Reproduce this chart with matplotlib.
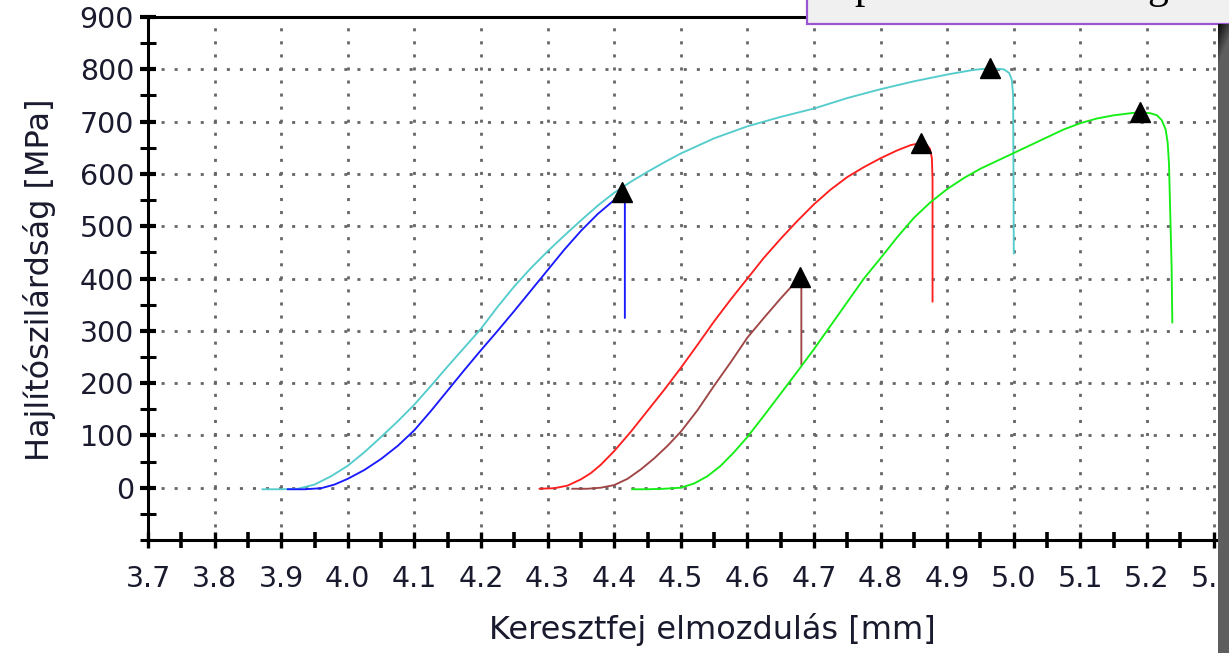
import numpy as np
import matplotlib
matplotlib.use("Agg")
import matplotlib.pyplot as plt
from matplotlib.patches import Rectangle
from matplotlib.ticker import MultipleLocator

# ---- data -------------------------------------------------------------
x_ticks = [3.7, 3.8, 3.9, 4.0, 4.1, 4.2, 4.3, 4.4, 4.5, 4.6, 4.7, 4.8, 4.9,
           5.0, 5.1, 5.2, 5.3]
y_ticks = [0, 100, 200, 300, 400, 500, 600, 700, 800, 900]

cyan_x = [3.872, 3.9, 3.925, 3.95, 3.975, 4.0, 4.025, 4.05, 4.075, 4.1, 4.125,
          4.15, 4.175, 4.2, 4.225, 4.25, 4.275, 4.3, 4.325, 4.35, 4.375, 4.4,
          4.425, 4.45, 4.475, 4.5, 4.55, 4.6, 4.65, 4.7, 4.75, 4.8, 4.85, 4.9,
          4.94, 4.965, 4.985, 4.993, 4.997, 4.999, 5.0]
cyan_y = [-3, -3, -2, 6, 22, 42, 68, 97, 127, 159, 195,
          232, 268, 304, 346, 385, 420, 452, 482, 511, 539, 564,
          585, 604, 622, 639, 668, 691, 709, 725, 745, 762, 777, 790,
          799, 802, 800, 793, 780, 750, 448]

blue_x = [3.91, 3.935, 3.96, 3.98, 4.0, 4.025, 4.05, 4.075, 4.1, 4.125, 4.15,
          4.175, 4.2, 4.225, 4.25, 4.275, 4.3, 4.325, 4.35, 4.375, 4.4, 4.412,
          4.416, 4.416]
blue_y = [-3, -3, -1, 6, 17, 34, 55, 80, 110, 147, 186,
          225, 263, 300, 338, 377, 416, 455, 491, 523, 550, 563,
          558, 325]

red_x = [4.288, 4.31, 4.33, 4.35, 4.365, 4.38, 4.4, 4.425, 4.45, 4.475, 4.5,
         4.525, 4.55, 4.575, 4.6, 4.625, 4.65, 4.675, 4.7, 4.725, 4.75, 4.775,
         4.8, 4.825, 4.845, 4.86, 4.868, 4.874, 4.877, 4.878, 4.878]
red_y = [-2, -1, 4, 16, 28, 44, 70, 107, 147, 187, 229,
         273, 318, 360, 400, 440, 476, 510, 542, 570, 594, 613,
         630, 645, 655, 659, 657, 648, 630, 590, 356]

brown_x = [4.337, 4.36, 4.38, 4.4, 4.42, 4.44, 4.46, 4.48, 4.5, 4.525, 4.55,
           4.575, 4.6, 4.625, 4.65, 4.67, 4.679, 4.681, 4.681]
brown_y = [-2, -2, 0, 5, 17, 35, 56, 80, 107, 148, 195,
           240, 287, 325, 362, 390, 402, 398, 236]

green_x = [4.427, 4.45, 4.475, 4.5, 4.52, 4.54, 4.56, 4.58, 4.6, 4.625, 4.65,
           4.675, 4.7, 4.725, 4.75, 4.775, 4.8, 4.825, 4.85, 4.875, 4.9, 4.925,
           4.95, 4.975, 5.0, 5.025, 5.05, 5.075, 5.1, 5.125, 5.15, 5.175, 5.19,
           5.205, 5.215, 5.222, 5.228, 5.231, 5.233, 5.235, 5.237, 5.238]
green_y = [-3, -3, -2, 0, 8, 22, 42, 68, 97, 138, 180,
           222, 265, 310, 355, 400, 439, 479, 516, 546, 571, 592,
           610, 625, 640, 655, 670, 685, 697, 706, 712, 716, 718,
           716, 712, 703, 685, 660, 620, 520, 420, 316]

# maximum (break) point of each specimen
peak_x = [4.412, 4.679, 4.86, 4.965, 5.19]
peak_y = [565, 402, 659, 802, 718]

series = [
    (cyan_x, cyan_y, "#55cccc"),
    (blue_x, blue_y, "#1a1aff"),
    (red_x, red_y, "#ff1f1f"),
    (brown_x, brown_y, "#a04545"),
    (green_x, green_y, "#14ee14"),
]

# ---- figure -----------------------------------------------------------
W, H = 1229, 653
fig = plt.figure(figsize=(W / 100, H / 100), dpi=100)
fig.patch.set_facecolor("white")

ax_l, ax_r, ax_t, ax_b = 148, 1218, 17, 540
ax = fig.add_axes([ax_l / W, 1 - ax_b / H, (ax_r - ax_l) / W, (ax_b - ax_t) / H])

text_col = "#1a1a2e"
font = "DejaVu Sans"

for xs, ys, col in series:
    ax.plot(xs, ys, color=col, lw=1.35, zorder=3, solid_joinstyle="round")

ax.plot(peak_x, peak_y, linestyle="none", marker="^", markersize=14,
        color="black", zorder=4)

ax.set_xlim(3.7, 3.7 + (ax_r - ax_l) / 666.0)
ax.set_ylim(-100, 900)

ax.set_xticks(x_ticks)
ax.set_xticklabels([f"{v:.1f}" for v in x_ticks], fontfamily=font)
ax.xaxis.set_minor_locator(MultipleLocator(0.05))
ax.set_yticks(y_ticks)
ax.set_yticklabels([str(v) for v in y_ticks], fontfamily=font)
ax.yaxis.set_minor_locator(MultipleLocator(50))

ax.tick_params(axis="both", which="both", direction="inout", color="black",
               labelcolor=text_col, labelsize=20.5)
ax.tick_params(axis="x", which="major", length=12, width=2.4, pad=12)
ax.tick_params(axis="x", which="minor", length=12, width=2.6)
ax.tick_params(axis="y", which="major", length=12, width=3.0, pad=4)
ax.tick_params(axis="y", which="minor", length=12, width=2.2)

ax.grid(True, which="major", color="#666666", linestyle=(0, (1.1, 3.6)),
        linewidth=2.0)
ax.set_axisbelow(True)

for side in ("left", "bottom", "top"):
    ax.spines[side].set_linewidth(2.2)
    ax.spines[side].set_color("black")
ax.spines["right"].set_visible(False)

ax.set_xlabel("Keresztfej elmozdulás [mm]", fontsize=23, color=text_col,
              fontfamily=font)
ax.xaxis.set_label_coords((712 - ax_l) / (ax_r - ax_l), -(630 - ax_b) / (ax_b - ax_t))
ax.xaxis.label.set_va("center")
ax.set_ylabel("Hajlítószilárdság [MPa]", fontsize=23, color=text_col,
              fontfamily=font)
ax.yaxis.set_label_coords((40 - ax_l) / (ax_r - ax_l), (ax_b - 280) / (ax_b - ax_t))
ax.yaxis.label.set_va("center")

# ---- caption box at the top right, running off the page ---------------
box = Rectangle((807 / W, 1 - 24 / H), (W + 20 - 807) / W, 40 / H,
                transform=fig.transFigure, facecolor="#f0f0f0",
                edgecolor="#9b55d0", linewidth=1.6, zorder=5)
fig.add_artist(box)
for ch, px in (("p", 865), ("g", 1158)):
    fig.text(px / W, 1 + 2 / H, ch, fontsize=30, family="Liberation Serif",
             color="black", ha="center", va="baseline", zorder=6)

# ---- dark frame on the right edge -------------------------------------
band_top = 24
band = fig.add_axes([1218 / W, 0, (W - 1218) / W, 1 - band_top / H])
band.set_axis_off()
rows, cols = H - band_top, W - 1218
r = np.arange(rows)[:, None]
c = np.arange(cols)[None, :]
shade = np.full((rows, cols), 0.37)
shade -= 0.33 * np.clip(1 - (r + 2.5 * c) / 40.0, 0, 1)
band.imshow(shade, cmap="gray", vmin=0, vmax=1, aspect="auto",
            interpolation="bilinear")
band.set_zorder(6)

fig.savefig("out.png", dpi=100)
